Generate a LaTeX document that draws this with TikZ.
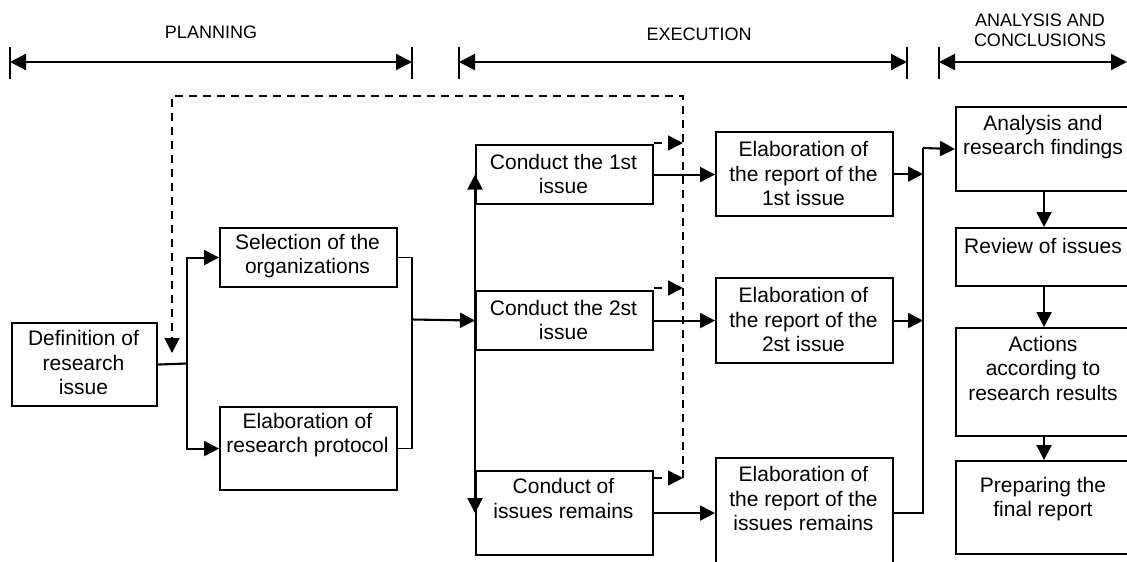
\documentclass[tikz,border=0pt]{standalone}
\usepackage{fontspec}
\setmainfont{Liberation Sans}
\usetikzlibrary{arrows.meta,calc}
\begin{document}
\begin{tikzpicture}[x=1pt,y=-1pt,
  box/.style={draw, line width=2.1pt, anchor=north west, inner sep=0pt, minimum width=177pt},
  txt/.style={align=center, inner sep=0pt, font=\fontsize{21}{24.5}\selectfont},
  lbl/.style={align=center, inner sep=0pt, font=\fontsize{18}{19.5}\selectfont},
  ln/.style={line width=2.1pt},
  arr/.style={ln, -{Triangle[length=15pt,width=15pt]}},
  tarr/.style={ln, {Triangle[length=16pt,width=16pt]}-{Triangle[length=16pt,width=16pt]}},
  tick/.style={line width=1.6pt},
  darr/.style={line width=1.6pt, dash pattern=on 8pt off 6pt, -{Triangle[length=15pt,width=15pt]}},
  thinln/.style={line width=1.2pt},
  ]
\useasboundingbox (0,0) rectangle (1127,562);

% ---- phase timeline ----
\node[lbl] (lplan) at (211,32) {PLANNING};
\node[lbl] (lexec) at (699,34) {EXECUTION};
\node[lbl] (lanal) at (1040,30.5) {ANALYSIS AND\\CONCLUSIONS};
\coordinate (p1) at (10,62);  \coordinate (p2) at (412,62);
\coordinate (x1) at (459,62); \coordinate (x2) at (907,62);
\coordinate (a1) at (939,62); \coordinate (a2) at (1127,62);
\draw[tarr] (p1) -- (p2);
\draw[tarr] (x1) -- (x2);
\draw[tarr] (a1) -- (a2);
\foreach \c in {p1,p2,x1,x2,a1}
  \draw[tick] ($(\c)+(0,-15)$) -- ($(\c)+(0,17)$);

% ---- boxes ----
\node[box, minimum width=145pt, minimum height=83pt] (def) at (11,322) {};
\node[box, minimum height=59pt] (sel)  at (219,227) {};
\node[box, minimum height=83pt] (prot) at (219,406) {};
\node[box, minimum height=59pt] (c1) at (475,144) {};
\node[box, minimum height=59pt] (c2) at (475,290) {};
\node[box, minimum height=84pt] (c3) at (475,470) {};
\node[box, minimum height=84pt] (e1) at (715,131) {};
\node[box, minimum height=85pt] (e2) at (715,277) {};
\node[box, minimum height=112pt] (e3) at (715,457) {};
\node[box, minimum width=176pt, minimum height=84pt] (an)  at (955,106) {};
\node[box, minimum width=176pt, minimum height=58pt] (rev) at (955,227) {};
\node[box, minimum width=176pt, minimum height=108pt] (act) at (955,327) {};
\node[box, minimum width=176pt, minimum height=93pt] (prep) at (955,460) {};

% ---- texts ----
\node[txt] (tdef)  at (83.5,362.5) {Definition of\\research\\issue};
\node[txt] (tsel)  at (307.5,256) {Selection of the\\organizations};
\node[txt] (tprot) at (307.5,435) {Elaboration of\\research protocol};
\node[txt] (tc1) at (563.5,174) {Conduct the 1st\\issue};
\node[txt] (tc2) at (563.5,320) {Conduct the 2st\\issue};
\node[txt] (tc3) at (563.5,498.5) {Conduct of\\issues remains};
\node[txt] (te1) at (803.5,173.5) {Elaboration of\\the report of the\\1st issue};
\node[txt] (te2) at (803.5,319.5) {Elaboration of\\the report of the\\2st issue};
\node[txt] (te3) at (803.5,498.5) {Elaboration of\\the report of the\\issues remains};
\node[txt] (tan)  at (1043,137) {Analysis and\\research findings};
\node[txt] (trev) at (1043,245.5) {Review of issues};
\node[txt] (tact) at (1043,368) {Actions\\according to\\research results};
\node[txt] (tprep) at (1043,499) {Preparing the\\final report};

% ---- planning connectors ----
\coordinate (split) at (187,363.5);
\draw[ln] (def.east) -- (split);
\draw[arr] (split) |- (sel.west);
\draw[arr] (split) |- (prot.west);
\coordinate (merge) at (412,319.5);
\draw[thinln] (sel.east) -| (merge) |- (prot.east);
\draw[arr] (merge) -- (c2.west);

% ---- execution connectors ----
\draw[arr] (c2.west) -- (c1.west);
\draw[arr] (c2.west) -- (c3.west);
\draw[arr] (c1.east) -- (c1.east -| e1.west);
\draw[arr] (c2.east) -- (c2.east -| e2.west);
\draw[arr] (c3.east) -- (c3.east -| e3.west);

% ---- feedback (dashed) ----
\coordinate (d1) at (683,143);
\coordinate (d2) at (683,288);
\coordinate (d3) at (683,478);
\coordinate (dtr) at (683,96);
\coordinate (dtl) at (172,96);
\coordinate (dend) at (172,353);
\draw[darr] (c1.north east |- d1) -- (d1);
\draw[darr] (c2.north east |- d2) -- (d2);
\draw[darr] (c3.north east |- d3) -- (d3);
\draw[darr] (d3) -- (dtr) -- (dtl) -- (dend);

% ---- collector to analysis ----
\coordinate (col) at (923,148);
\draw[arr] (e1.east) -- (e1.east -| col);
\draw[arr] (e2.east) -- (e2.east -| col);
\draw[ln] (e3.east |- c3.east) -| (col);
\draw[arr] (col) -- (an.west);

% ---- analysis chain ----
\draw[arr] (an.south) -- (rev.north);
\draw[arr] (rev.south) -- (act.north);
\draw[arr] (act.south) -- (prep.north);
\end{tikzpicture}
\end{document}
